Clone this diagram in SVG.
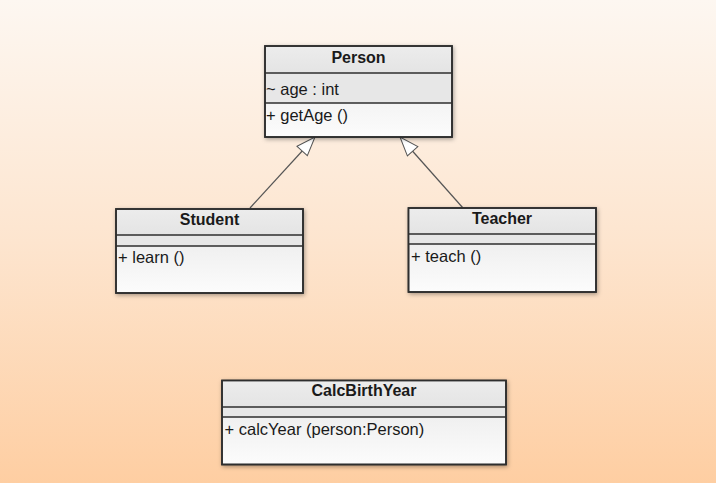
<svg xmlns="http://www.w3.org/2000/svg" width="716" height="483" viewBox="0 0 716 483">
  <defs>
    <linearGradient id="bg" x1="0" y1="0" x2="0" y2="1">
      <stop offset="0" stop-color="#fdf7f1"/>
      <stop offset="0.5" stop-color="#fde5cf"/>
      <stop offset="1" stop-color="#fecea2"/>
    </linearGradient>
    <linearGradient id="hdr" x1="0" y1="0" x2="0" y2="1">
      <stop offset="0" stop-color="#ececec"/>
      <stop offset="1" stop-color="#e4e4e4"/>
    </linearGradient>
    <linearGradient id="body" x1="0" y1="0" x2="0" y2="1">
      <stop offset="0" stop-color="#e6e6e6"/>
      <stop offset="1" stop-color="#fcfcfc"/>
    </linearGradient>
    <filter id="sh" x="-10%" y="-10%" width="120%" height="130%">
      <feDropShadow dx="1" dy="1.5" stdDeviation="2" flood-color="#000" flood-opacity="0.35"/>
    </filter>
    <marker id="inh" viewBox="0 0 20 16" refX="20" refY="8" markerWidth="20" markerHeight="16" markerUnits="userSpaceOnUse" orient="auto">
      <path d="M1,1 L20,8 L1,15 Z" fill="#ffffff" stroke="#555" stroke-width="1"/>
    </marker>
  </defs>
  <style>
    .box { fill: url(#body); stroke: #2e2e2e; stroke-width: 1.6; }
    .hdr { fill: url(#hdr); }
    .sec { fill: #e7e7e7; }
    .div { stroke: #2e2e2e; stroke-width: 1.6; }
    .title { font-family: "Liberation Sans", Arial, sans-serif; font-weight: bold; font-size: 16px; fill: #1a1a1a; text-anchor: middle; }
    .mem { font-family: "Liberation Sans", Arial, sans-serif; font-size: 16.5px; fill: #1a1a1a; }
    .edge { stroke: #555; stroke-width: 1.2; fill: none; }
  </style>
  <rect x="0" y="0" width="716" height="483" fill="url(#bg)"/>

  <g id="connectors">
    <line class="edge" x1="250" y1="208" x2="315" y2="137" marker-end="url(#inh)"/>
    <line class="edge" x1="463" y1="208" x2="400" y2="137" marker-end="url(#inh)"/>
  </g>

  <g id="person">
    <rect class="box" x="265" y="46" width="187" height="91" filter="url(#sh)"/>
    <rect class="hdr" x="266" y="47" width="185" height="26"/>
    <rect class="sec" x="266" y="73" width="185" height="30"/>
    <line class="div" x1="265" y1="73" x2="452" y2="73"/>
    <line class="div" x1="265" y1="103" x2="452" y2="103"/>
    <rect x="265" y="46" width="187" height="91" fill="none" stroke="#2e2e2e" stroke-width="1.6"/>
    <text class="title" x="358.5" y="62.5">Person</text>
    <text class="mem" x="266" y="94.5">~ age : int</text>
    <text class="mem" x="266" y="121">+ getAge ()</text>
  </g>

  <g id="student">
    <rect class="box" x="116" y="209" width="187" height="84" filter="url(#sh)"/>
    <rect class="hdr" x="117" y="210" width="185" height="25"/>
    <rect class="sec" x="117" y="235" width="185" height="11"/>
    <line class="div" x1="116" y1="235" x2="303" y2="235"/>
    <line class="div" x1="116" y1="246" x2="303" y2="246"/>
    <rect x="116" y="209" width="187" height="84" fill="none" stroke="#2e2e2e" stroke-width="1.6"/>
    <text class="title" x="209.5" y="225">Student</text>
    <text class="mem" x="118" y="263">+ learn ()</text>
  </g>

  <g id="teacher">
    <rect class="box" x="408.5" y="208" width="187.5" height="84" filter="url(#sh)"/>
    <rect class="hdr" x="409.5" y="209" width="185.5" height="25"/>
    <rect class="sec" x="409.5" y="234" width="185.5" height="10"/>
    <line class="div" x1="408.5" y1="234" x2="596" y2="234"/>
    <line class="div" x1="408.5" y1="244" x2="596" y2="244"/>
    <rect x="408.5" y="208" width="187.5" height="84" fill="none" stroke="#2e2e2e" stroke-width="1.6"/>
    <text class="title" x="502" y="223.5">Teacher</text>
    <text class="mem" x="411" y="261.5">+ teach ()</text>
  </g>

  <g id="calcbirthyear">
    <rect class="box" x="222" y="380.5" width="284" height="84" filter="url(#sh)"/>
    <rect class="hdr" x="223" y="381.5" width="282" height="25.5"/>
    <rect class="sec" x="223" y="407" width="282" height="10"/>
    <line class="div" x1="222" y1="407" x2="506" y2="407"/>
    <line class="div" x1="222" y1="417" x2="506" y2="417"/>
    <rect x="222" y="380.5" width="284" height="84" fill="none" stroke="#2e2e2e" stroke-width="1.6"/>
    <text class="title" x="364" y="396">CalcBirthYear</text>
    <text class="mem" x="224.5" y="435">+ calcYear (person:Person)</text>
  </g>
</svg>
